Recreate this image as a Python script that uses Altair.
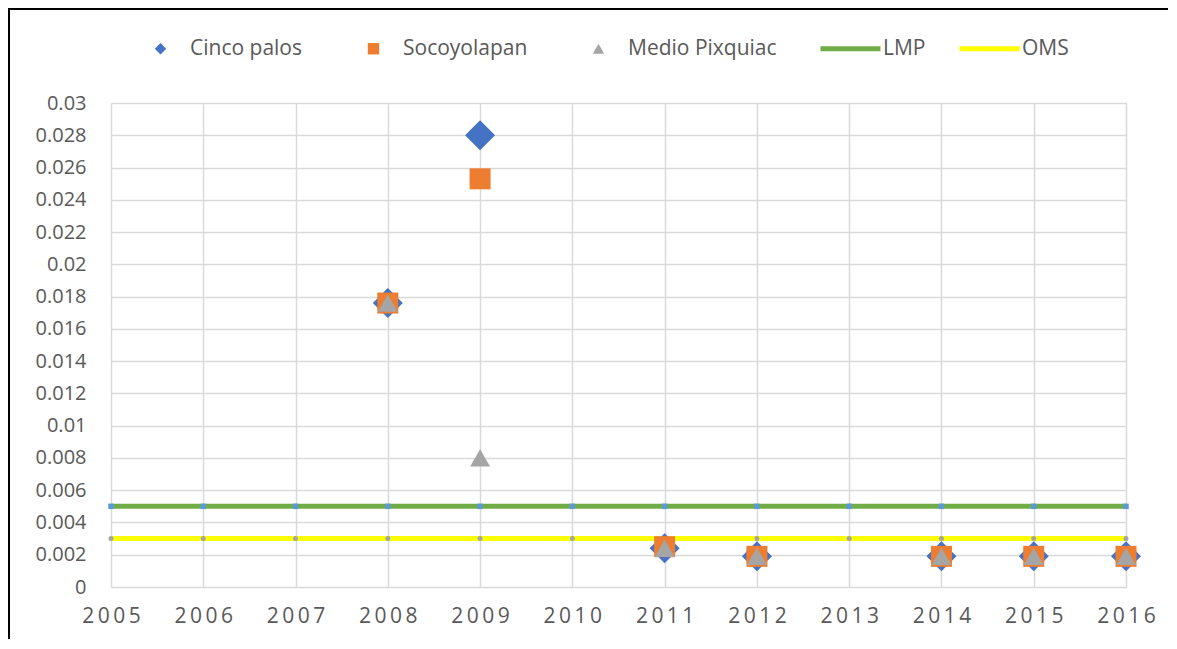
import altair as alt
import pandas as pd

years = [2005, 2006, 2007, 2008, 2009, 2010, 2011, 2012, 2013, 2014, 2015, 2016]
cinco_palos = [None, None, None, 0.0176, 0.0280, None, 0.0024, 0.0019, None, 0.0019, 0.0019, 0.0019]
socoyolapan = [None, None, None, 0.0176, 0.0253, None, 0.0025, 0.0019, None, 0.0019, 0.0019, 0.0019]
medio_pixquiac = [None, None, None, 0.0176, 0.0080, None, 0.0024, 0.0019, None, 0.0019, 0.0019, 0.0019]

series_names = ["Cinco palos", "Socoyolapan", "Medio Pixquiac"]
series_colors = ["#4472C4", "#ED7D31", "#A5A5A5"]
series_shapes = ["diamond", "square", "triangle-up"]
series_sizes = [900, 441, 400]

limit_names = ["LMP", "OMS"]
limit_values = [0.005, 0.003]
limit_colors = ["#70AD47", "#FFFF00"]
limit_marker_colors = ["#5B9BD5", "#A5A5A5"]

y_ticks = [round(i * 0.002, 3) for i in range(16)]

rows = []
for name, vals in zip(series_names, [cinco_palos, socoyolapan, medio_pixquiac]):
    for yr, v in zip(years, vals):
        if v is not None:
            rows.append({"year": yr, "value": v, "serie": name})
pts = pd.DataFrame(rows)

lrows = []
for name, v in zip(limit_names, limit_values):
    for yr in years:
        lrows.append({"year": yr, "value": v, "limite": name})
lines_df = pd.DataFrame(lrows)

FONT = "Open Sans"
LABEL_COLOR = "#595959"

x_enc = alt.X(
    "year:Q",
    scale=alt.Scale(domain=[2005, 2016], nice=False, zero=False),
    axis=alt.Axis(
        values=years, format="d", title=None,
        labelExpr="join(split(datum.label, ''), '\u2009')",
        labelFontSize=21, labelColor=LABEL_COLOR, labelFont=FONT,
        labelPadding=18, ticks=False, domain=False, labelFlush=False,
        labelOverlap=False,
        gridColor="#d9d9d9", gridWidth=1.5,
    ),
)
y_enc = alt.Y(
    "value:Q",
    scale=alt.Scale(domain=[0, 0.03], nice=False),
    axis=alt.Axis(
        values=y_ticks, format=".3~f", title=None,
        labelFontSize=20, labelColor=LABEL_COLOR, labelFont=FONT,
        labelPadding=25, ticks=False, domain=False, labelOverlap=False,
        labelFlush=False,
        gridColor="#d9d9d9", gridWidth=1.5,
    ),
)

lines = alt.Chart(lines_df).mark_line(strokeWidth=5).encode(
    x=x_enc, y=y_enc,
    stroke=alt.Stroke(
        "limite:N",
        scale=alt.Scale(domain=limit_names, range=limit_colors),
        legend=alt.Legend(
            title=None, orient="none", legendX=707, legendY=-87,
            direction="horizontal", symbolType="stroke", symbolSize=3600,
            symbolStrokeWidth=5, labelOffset=0, columnPadding=23,
            labelFontSize=21, labelColor=LABEL_COLOR, labelFont=FONT, padding=0,
        ),
    ),
    detail="limite:N",
)

lmp_markers = alt.Chart(lines_df).transform_filter(
    alt.datum.limite == limit_names[0]
).mark_point(shape="square", filled=True, size=30, color=limit_marker_colors[0], opacity=1).encode(
    x=x_enc, y=y_enc
)
oms_markers = alt.Chart(lines_df).transform_filter(
    alt.datum.limite == limit_names[1]
).mark_point(shape="circle", filled=True, size=25, color=limit_marker_colors[1], opacity=1).encode(
    x=x_enc, y=y_enc
)

color_enc = alt.Color(
    "serie:N",
    scale=alt.Scale(domain=series_names, range=series_colors),
    legend=alt.Legend(
        title=None, orient="none", legendX=39, legendY=-65,
        direction="horizontal", symbolSize=130, labelOffset=19,
        columnPadding=60, labelFontSize=21, labelColor=LABEL_COLOR,
        labelFont=FONT, padding=0, symbolStrokeWidth=0,
    ),
)
shape_enc = alt.Shape("serie:N", scale=alt.Scale(domain=series_names, range=series_shapes))

point_layers = []
for name, size in zip(series_names, series_sizes):
    point_layers.append(
        alt.Chart(pts).transform_filter(alt.datum.serie == name)
        .mark_point(filled=True, opacity=1, size=size)
        .encode(x=x_enc, y=y_enc, color=color_enc, shape=shape_enc)
    )

one = pd.DataFrame({"k": [0]})
border = alt.Chart(one).mark_rect(fill=None, stroke="black", strokeWidth=2, filled=False).encode(
    x=alt.value(-102), x2=alt.value(1200), y=alt.value(-94), y2=alt.value(700)
)

chart = alt.layer(lines, lmp_markers, oms_markers, *point_layers, border).properties(
    width=1015, height=484,
    autosize=alt.AutoSizeParams(type="none"),
    padding={"left": 103, "top": 95, "right": 42, "bottom": 52},
).configure_view(stroke=None).configure_axis(labelOverlap=False).configure(background="white")

chart.save("out.html", embed_options={"renderer": "svg", "actions": False})
